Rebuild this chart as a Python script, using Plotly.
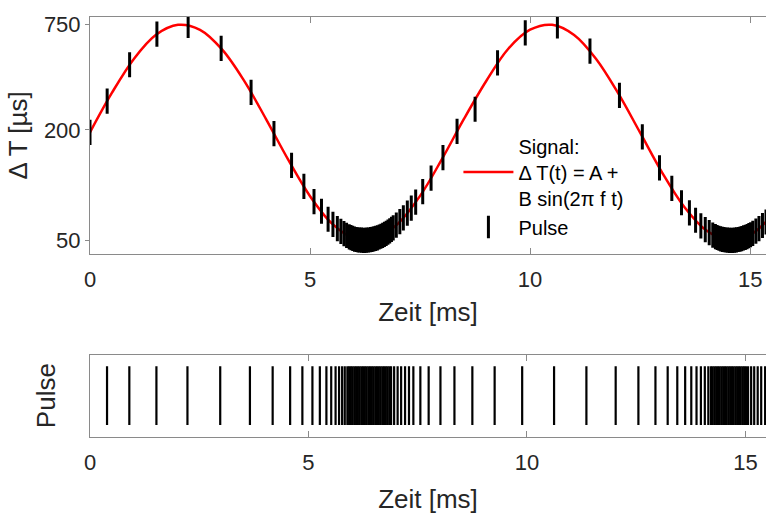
import plotly.graph_objects as go

# ---- data ----
# continuous signal Delta T(t) in microseconds, time in ms
curve_t = [0.0, 0.5, 1.0, 1.5, 2.0, 2.5, 3.0, 3.5, 4.0, 4.5, 5.0, 5.5, 6.0, 6.5, 7.0, 7.5,
           8.0, 8.5, 9.0, 9.5, 10.0, 10.5, 11.0, 11.5, 12.0, 12.5, 13.0, 13.5, 14.0, 14.5, 15.0, 15.5]
curve_dt = [194, 319, 489, 660, 748, 702, 549, 371, 229, 138, 87, 61.6, 51.2, 51.2, 61.7, 87.3,
            139, 230, 368, 552, 703, 748, 658, 487, 317, 193, 117, 76.2, 56.7, 50.1, 53.4, 68.6]

# pulse times (ms) and the signal value at each pulse (us)
pulse_t = [0.00, 0.39, 0.90, 1.52, 2.23, 2.98, 3.66, 4.18, 4.58, 4.86, 5.09, 5.26, 5.41, 5.52,
           5.62, 5.70, 5.77, 5.83, 5.89, 5.93, 5.97, 6.01, 6.05, 6.09, 6.13, 6.17, 6.21, 6.25,
           6.29, 6.33, 6.37, 6.41, 6.45, 6.49, 6.53, 6.57, 6.61, 6.65, 6.69, 6.73, 6.77, 6.81,
           6.85, 6.89, 6.96, 7.04, 7.12, 7.21, 7.30, 7.40, 7.56, 7.75, 8.02, 8.34, 8.75, 9.26,
           9.89, 10.62, 11.36, 12.03, 12.55, 12.94, 13.22, 13.44, 13.62, 13.76, 13.88, 13.98,
           14.07, 14.15, 14.21, 14.25, 14.29, 14.33, 14.37, 14.41, 14.45, 14.49, 14.53, 14.57,
           14.61, 14.65, 14.69, 14.73, 14.77, 14.81, 14.85, 14.89, 14.93, 14.97, 15.01, 15.06,
           15.13, 15.20, 15.28, 15.36, 15.45]
pulse_dt = [194, 287, 453, 665, 743, 556, 320, 191, 128, 98.5, 81.3, 72.0, 65.1, 61.0,
            57.9, 55.9, 54.3, 53.2, 52.2, 51.7, 51.2, 50.8, 50.5, 50.3, 50.2, 50.1, 50.0, 50.0,
            50.1, 50.2, 50.4, 50.6, 50.9, 51.2, 51.6, 52.1, 52.6, 53.2, 53.9, 54.6, 55.4, 56.3,
            57.3, 58.4, 60.5, 63.2, 66.3, 70.3, 74.9, 80.8, 92.1, 109, 141, 196, 259, 464,
            676, 737, 538, 308, 183, 124, 95.9, 80.1, 70.5, 64.3, 59.9, 57.1,
            55.0, 53.4, 52.4, 51.8, 51.3, 50.9, 50.6, 50.4, 50.2, 50.1, 50.0, 50.0,
            50.0, 50.1, 50.3, 50.5, 50.8, 51.1, 51.5, 51.9, 52.4, 53.0, 53.6, 54.6,
            56.1, 57.9, 60.2, 62.9, 66.3]

x_ticks = [0, 5, 10, 15]
y_ticks = [50, 200, 750]
y_tick_text = ["50", "200", "750"]

FONT = "Liberation Sans, Arial, sans-serif"
AX = "#8a8a8a"
TXT = "#262626"

fig = go.Figure()

fig.add_trace(go.Scatter(
    x=curve_t, y=curve_dt, mode="lines",
    line=dict(color="#ff0000", width=2.5, shape="spline"),
    name="Signal:<br>\u0394 T(t) = A +<br>B sin(2\u03c0 f t)",
    xaxis="x", yaxis="y"))

fig.add_trace(go.Scatter(
    x=pulse_t, y=pulse_dt, mode="markers",
    marker=dict(symbol="line-ns", size=18, color="black",
                line=dict(width=3, color="black")),
    name="Pulse", xaxis="x", yaxis="y"))

# raster of pulses in the lower panel (one vertical segment per pulse)
bx, by = [], []
for t in pulse_t[1:]:
    bx += [t, t, None]
    by += [0.143, 0.857, None]
fig.add_trace(go.Scatter(
    x=bx, y=by, mode="lines", line=dict(color="black", width=2.2),
    showlegend=False, hoverinfo="skip", xaxis="x2", yaxis="y2"))

axis_common = dict(showgrid=False, zeroline=False, showline=True, linecolor=AX, linewidth=1,
                   tickcolor=AX, tickfont=dict(family=FONT, size=22, color=TXT))

fig.update_layout(
    width=766, height=514,
    margin=dict(l=90, r=0, t=0, b=0),
    paper_bgcolor="white", plot_bgcolor="white",
    font=dict(family=FONT, color=TXT),
    xaxis=dict(axis_common, domain=[0, 1], range=[0, 15.36], tickmode="array",
               tickvals=x_ticks, ticks="inside", ticklen=6, mirror="ticks",
               anchor="y", ticklabelstandoff=6,
               title=dict(text="Zeit [ms]", font=dict(family=FONT, size=26, color=TXT), standoff=11)),
    yaxis=dict(axis_common, domain=[0.5019, 0.9747], type="log", range=[1.624, 2.918],
               tickmode="array", tickvals=y_ticks, ticktext=y_tick_text,
               ticks="outside", ticklen=4, mirror=False, anchor="x",
               title=dict(text="\u0394 T [\u00b5s]", font=dict(family=FONT, size=26, color=TXT), standoff=8)),
    xaxis2=dict(axis_common, domain=[0, 1], range=[0, 15.47], tickmode="array",
                tickvals=x_ticks, ticks="inside", ticklen=6, mirror="ticks",
                anchor="y2", ticklabelstandoff=6,
                title=dict(text="Zeit [ms]", font=dict(family=FONT, size=26, color=TXT), standoff=21)),
    yaxis2=dict(axis_common, domain=[0.1381, 0.3016], range=[0, 1], showticklabels=False,
                ticks="", mirror=False, anchor="x2",
                title=dict(text="Pulse", font=dict(family=FONT, size=26, color=TXT), standoff=25)),
    legend=dict(x=0.545, y=0.756, xanchor="left", yanchor="top",
                bgcolor="rgba(0,0,0,0)", borderwidth=0,
                font=dict(family=FONT, size=20, color="black"),
                valign="middle", tracegroupgap=0, itemwidth=50),
    showlegend=True,
)

fig.write_html("out.html", config={"displayModeBar": False},
               post_script="document.body.style.margin='0';document.body.style.overflow='hidden';")
